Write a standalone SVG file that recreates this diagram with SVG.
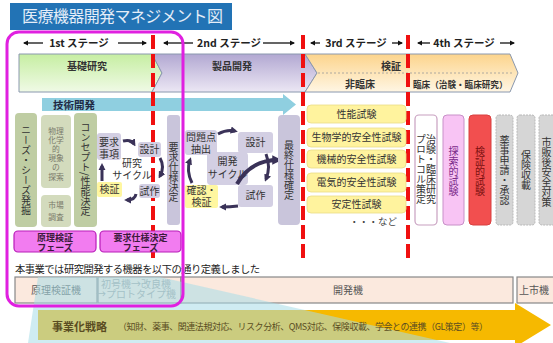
<svg xmlns="http://www.w3.org/2000/svg" width="553" height="343" viewBox="0 0 553 343">
<defs>
<style>
text{font-family:"Noto Sans CJK JP","Noto Sans",sans-serif;fill:#333;}
.v{writing-mode:vertical-rl;text-anchor:middle;font-size:10px;}
.c{text-anchor:middle;font-size:10px;}
.b{font-weight:bold;}
.stg{font-size:10.5px;font-weight:bold;text-anchor:middle;fill:#222;}
.sa{stroke:#111;stroke-width:1.3;fill:none;marker-end:url(#sah);}
.red{stroke:#f01010;stroke-width:4;stroke-dasharray:14 5;fill:none;}
.gbox{fill:#bfcda3;}
.lgbox{fill:#d3dbbd;}
.lav{fill:#d3cfe3;}
.lavv{fill:#c9c5db;}
.yel{fill:#fff7a0;}
.cyc{stroke:#3a3258;stroke-width:3;fill:none;marker-end:url(#cah);}
.ty{fill:#fff39e;stroke:#eadc86;stroke-width:0.8;}
.gray{fill:#d6d6d6;stroke:#b8b8b8;stroke-width:1;stroke-dasharray:2 1;}
.row{fill:#fbe9de;stroke:#888;stroke-width:1.2;}
.phase{fill:#f27cf0;stroke:#b81cb8;stroke-width:1.2;}
.ph{text-anchor:middle;font-size:9px;font-weight:bold;fill:#3a1a3a;}
.sm{text-anchor:middle;font-size:7.8px;fill:#7a7a6a;}
</style>
<marker id="sah" viewBox="0 0 10 10" refX="8" refY="5" markerWidth="4" markerHeight="4" orient="auto" markerUnits="strokeWidth"><path d="M0,0 L10,5 L0,10 z" fill="#111"/></marker>
<marker id="cah" viewBox="0 0 10 10" refX="6" refY="5" markerWidth="2.4" markerHeight="2.4" orient="auto" markerUnits="strokeWidth"><path d="M0,0 L10,5 L0,10 z" fill="#3a3258"/></marker>
<linearGradient id="gG" x1="0" y1="0" x2="0" y2="1"><stop offset="0" stop-color="#c6eea2"/><stop offset="1" stop-color="#f0fae6"/></linearGradient>
<linearGradient id="gP" x1="0" y1="0" x2="0" y2="1"><stop offset="0" stop-color="#b2a8d2"/><stop offset="1" stop-color="#ece7f4"/></linearGradient>
<linearGradient id="gO" x1="0" y1="0" x2="0" y2="1"><stop offset="0" stop-color="#fcd48c"/><stop offset="1" stop-color="#fff6e4"/></linearGradient>
</defs>
<rect width="553" height="343" fill="#fff"/>

<g id="title">
<rect x="10" y="3" width="222" height="27" fill="#2273b5"/>
<text x="22" y="22" font-size="16" style="fill:#e4edf8" textLength="201">医療機器開発マネジメント図</text>
</g>

<g id="stages">
<text class="stg" x="79" y="47">1st ステージ</text>
<text class="stg" x="229" y="47">2nd ステージ</text>
<text class="stg" x="356" y="47">3rd ステージ</text>
<text class="stg" x="464" y="47">4th ステージ</text>
</g>

<g id="phasebar">
<polygon points="19,54 152,54 162,73 152,92 19,92" fill="url(#gG)" stroke="#8a98ae" stroke-width="1"/>
<polygon points="152,54 305,54 317,73 305,92 152,92 162,73" fill="url(#gP)" stroke="#8a98ae" stroke-width="1"/>
<polygon points="305,54 510,54 518,73 510,92 305,92 317,73" fill="url(#gO)" stroke="#8a98ae" stroke-width="1"/>
<line x1="318" y1="73" x2="512" y2="73" stroke="#999" stroke-width="0.8" stroke-dasharray="2 2"/>
<text class="c b" x="87" y="70" font-size="12">基礎研究</text>
<text class="c b" x="232" y="70" font-size="12">製品開発</text>
<text class="c b" x="391" y="70" font-size="12">検証</text>
<text class="c b" x="360" y="88" font-size="9.5">非臨床</text>
<text class="b" x="413" y="88" font-size="8.6">臨床（治験・臨床研究）</text>
</g>

<g id="tech">
<polygon points="42,98 283,98 283,94 296,104.5 283,115 283,111 42,111" fill="#8fcfe0"/>
<text class="b" x="53" y="109" font-size="10.5" style="fill:#1f2a45">技術開発</text>
</g>

<g id="connectors">
<path class="sa" d="M43,43 L24,43"/>
<path class="sa" d="M118,43 L146,43"/>
<path class="sa" d="M193,43 L164,43"/>
<path class="sa" d="M263,43 L294,43"/>
<path class="sa" d="M320,43 L311,43"/>
<path class="sa" d="M392,43 L402,43"/>
<path class="sa" d="M430,43 L418,43"/>
<path class="sa" d="M500,43 L514,43"/>
<line class="red" x1="153" y1="35" x2="153" y2="262"/>
<line class="red" x1="303" y1="35" x2="303" y2="262"/>
<line class="red" x1="408" y1="35" x2="408" y2="262"/>
</g>

<g id="stage1">
<rect class="gbox" x="15" y="113" width="22" height="114" rx="4"/>
<text class="v" x="26" y="170">ニーズ・シーズ発掘</text>
<rect class="lgbox" x="41" y="115" width="30" height="73" rx="4"/>
<text class="sm" x="56" y="134">物理</text>
<text class="sm" x="56" y="143">化学</text>
<text class="sm" x="56" y="152">的</text>
<text class="sm" x="56" y="161">現象</text>
<text class="sm" x="56" y="170">の</text>
<text class="sm" x="56" y="180">探索</text>
<rect class="lgbox" x="41" y="195" width="30" height="32" rx="4"/>
<text class="sm" x="56" y="208">市場</text>
<text class="sm" x="56" y="220">調査</text>
<rect class="gbox" x="74" y="113" width="23" height="114" rx="4"/>
<text class="v" x="85.5" y="169">コンセプト/性能決定</text>
</g>

<g id="cycle1">
<rect class="lav" x="97" y="133" width="24" height="27" rx="3"/>
<text class="c" x="109" y="146">要求</text>
<text class="c" x="109" y="158">事項</text>
<rect class="lav" x="138" y="142" width="23" height="15" rx="3"/>
<text class="c" x="149.5" y="153">設計</text>
<rect class="lav" x="139" y="184" width="21" height="14" rx="3"/>
<text class="c" x="149.5" y="195">試作</text>
<rect class="yel" x="97" y="182" width="25" height="15" rx="2"/>
<text class="c" x="109.5" y="193">検証</text>
<text class="c" x="132" y="167">研究</text>
<text class="c" x="132" y="179">サイクル</text>
<path class="cyc" d="M123,141 Q131,139 134,144"/>
<path class="cyc" d="M160,158 Q165,167 160,176"/>
<path class="cyc" d="M136,194 Q135,200 127,200"/>
<path class="cyc" d="M102,181 L102,166"/>
<rect class="lavv" x="167" y="115" width="13" height="110" rx="3"/>
<text class="v" x="173.5" y="172">要求仕様決定</text>
</g>

<g id="phases">
<rect class="phase" x="14" y="231" width="82" height="21" rx="4"/>
<text class="ph" x="55" y="240.5">原理検証</text>
<text class="ph" x="55" y="250.5">フェーズ</text>
<rect class="phase" x="100" y="231" width="81" height="21" rx="4"/>
<text class="ph" x="140.5" y="240.5">要求仕様決定</text>
<text class="ph" x="140.5" y="250.5">フェーズ</text>
</g>

<g id="stage2">
<rect class="lav" x="207" y="152" width="41" height="33" rx="4"/>
<text class="c" x="227.5" y="165">開発</text>
<text class="c" x="227.5" y="178">サイクル</text>
<rect class="lav" x="185" y="130" width="32" height="25" rx="3"/>
<text class="c" x="201" y="141">問題点</text>
<text class="c" x="201" y="153">抽出</text>
<rect class="lav" x="238" y="132" width="35" height="21" rx="3"/>
<text class="c" x="255.5" y="146">設計</text>
<rect class="yel" x="185" y="185" width="33" height="23" rx="2"/>
<text class="c" x="201.5" y="194">確認・</text>
<text class="c" x="201.5" y="206">検証</text>
<rect class="lav" x="238" y="185" width="35" height="22" rx="3"/>
<text class="c" x="255.5" y="199">試作</text>
<path class="cyc" d="M218,134 Q227,129 235,131"/>
<path class="cyc" d="M266,154 Q271,167 266,179"/>
<path class="cyc" d="M238,206 Q230,207 222,207"/>
<path class="cyc" d="M192,183 Q186,171 190,160"/>
<path d="M237,184 C246,168 260,160 278,160" stroke="#3a3258" stroke-width="4" fill="none" marker-end="url(#cah)"/>
<rect class="lavv" x="278" y="115" width="22" height="110" rx="4"/>
<text class="v" x="289" y="170">最終仕様確定</text>
</g>

<g id="stage3">
<rect class="ty" x="307" y="105" width="99" height="18" rx="4"/>
<text class="c" x="356.5" y="118">性能試験</text>
<rect class="ty" x="307" y="128" width="99" height="19" rx="4"/>
<text class="c" x="356.5" y="141">生物学的安全性試験</text>
<rect class="ty" x="307" y="150" width="99" height="18" rx="4"/>
<text class="c" x="356.5" y="163">機械的安全性試験</text>
<rect class="ty" x="307" y="173" width="99" height="19" rx="4"/>
<text class="c" x="356.5" y="186">電気的安全性試験</text>
<rect class="ty" x="307" y="196" width="99" height="17" rx="4"/>
<text class="c" x="356.5" y="208">安定性試験</text>
<text x="397" y="225" font-size="9.5" text-anchor="end" style="fill:#444">・・・など</text>
</g>

<g id="stage4">
<rect x="415" y="115" width="22" height="110" rx="4" fill="#fff" stroke="#c8a0c0" stroke-width="1.2"/>
<text class="v" x="431" y="169" font-size="9.5">治験・臨床研究</text>
<text class="v" x="421" y="169" font-size="9.5">プロトコル策定</text>
<rect x="443" y="115" width="21" height="110" rx="4" fill="#f8c4f4" stroke="#c890c8" stroke-width="1"/>
<text class="v" x="453.5" y="171" style="fill:#7a2a8a">探索的試験</text>
<rect x="469" y="115" width="22" height="110" rx="4" fill="#f24f4f" stroke="#d84040" stroke-width="1"/>
<text class="v" x="480" y="171" style="fill:#7a1010">検証的試験</text>
<rect class="gray" x="496" y="115" width="17" height="110" rx="3"/>
<text class="v" x="504.5" y="170" font-size="9.5">薬事申請・承認</text>
<rect class="gray" x="517" y="115" width="18" height="110" rx="3"/>
<text class="v" x="526" y="170" font-size="9.5">保険収載</text>
<rect class="gray" x="539" y="115" width="20" height="110" rx="3"/>
<text class="v" x="546.5" y="172" font-size="9">市販後安全対策</text>
</g>

<g id="definition">
<text x="15" y="273" font-size="10.3" style="fill:#222" textLength="245">本事業では研究開発する機器を以下の通り定義しました</text>
<rect class="row" x="15" y="277" width="82" height="26"/>
<text class="c" x="56" y="294" font-size="9.5" style="fill:#555">原理検証機</text>
<rect class="row" x="98" y="277" width="83" height="26"/>
<text class="c" x="136" y="287.5" font-size="7.2" style="fill:#a0a0a0">初号機→改良機</text>
<text class="c" x="136" y="298" font-size="7.2" style="fill:#a0a0a0">→プロトタイプ機</text>
<rect class="row" x="181" y="277" width="332" height="26"/>
<text class="c" x="348" y="294" font-size="9.5" style="fill:#555">開発機</text>
<rect class="row" x="517" y="277" width="45" height="26"/>
<text class="c" x="534" y="294" font-size="9.5" style="fill:#555">上市機</text>
</g>

<g id="strategy">
<polygon points="38,310 515,310 515,303 551,325 515,347 515,340 38,340" fill="#f6b900"/>
<polygon points="38,277 160,277 450,343 28,343" fill="#a8dce8" fill-opacity="0.55"/>
<text class="b" x="52" y="331" font-size="11" style="fill:#5a4c22">事業化戦略</text>
<text x="118" y="330" font-size="9" style="fill:#5a4c22" textLength="370">（知財、薬事、関連法規対応、リスク分析、QMS対応、保険収載、学会との連携（GL策定）等）</text>
</g>

<g id="scope">
<rect x="7" y="32" width="176" height="274" rx="12" fill="none" stroke="#e020e0" stroke-width="3"/>
</g>
</svg>
